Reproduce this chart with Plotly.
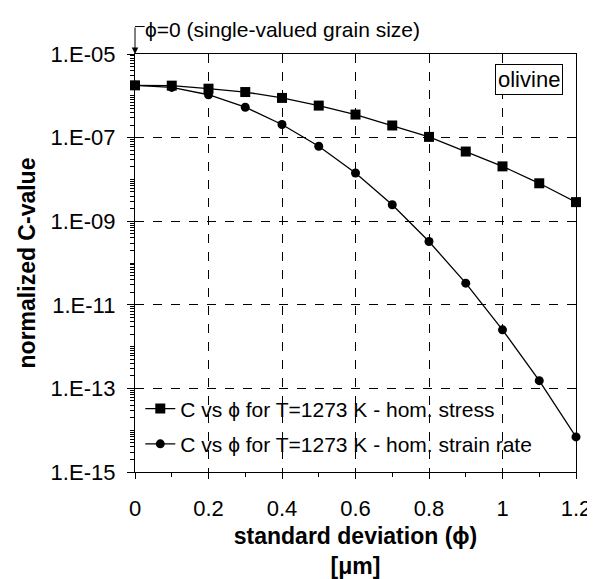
import plotly.graph_objects as go

# Data
sigma = [0.0, 0.1, 0.2, 0.3, 0.4, 0.5, 0.6, 0.7, 0.8, 0.9, 1.0, 1.1, 1.2]
c_hom_stress = [1.78e-6, 1.75e-6, 1.48e-6, 1.23e-6, 8.9e-7, 5.83e-7, 3.56e-7,
                1.95e-7, 1.04e-7, 4.64e-8, 2.05e-8, 8.07e-9, 2.86e-9]
c_hom_strain = [1.78e-6, 1.59e-6, 1.06e-6, 5.33e-7, 2.06e-7, 6.2e-8, 1.42e-8,
                2.47e-9, 3.27e-10, 3.29e-11, 2.52e-12, 1.53e-13, 6.9e-15]
y_tick_vals = [1e-15, 1e-13, 1e-11, 1e-9, 1e-7, 1e-5]
y_tick_text = ["1.E-15", "1.E-13", "1.E-11", "1.E-09", "1.E-07", "1.E-05"]
x_tick_vals = [0, 0.2, 0.4, 0.6, 0.8, 1.0, 1.2]
x_tick_text = ["0", "0.2", "0.4", "0.6", "0.8", "1", "1.2"]

FONT = "Liberation Sans, Arial, sans-serif"
FS = 22

minor_y = [k * 10.0 ** n for n in range(-15, -5) for k in range(1, 10) if not (k == 1 and n % 2 != 0)]

fig = go.Figure()
fig.add_trace(go.Scatter(
    x=sigma, y=c_hom_stress, mode="lines+markers",
    name="C vs \u03d5 for T=1273 K - hom. stress",
    line=dict(color="black", width=1.3),
    marker=dict(symbol="square", size=10, color="black"),
    cliponaxis=False, legendgroup="a"))
fig.add_trace(go.Scatter(
    x=sigma, y=c_hom_strain, mode="lines+markers",
    name="C vs \u03d5 for T=1273 K - hom. strain rate",
    line=dict(color="black", width=1.3),
    marker=dict(symbol="circle", size=9, color="black"),
    cliponaxis=False, legendgroup="b"))

fig.update_layout(
    width=595, height=579,
    margin=dict(l=127, r=15.5, t=45.7, b=112),
    paper_bgcolor="white", plot_bgcolor="white",
    font=dict(family=FONT, size=FS, color="black"),
    showlegend=True,
    legend=dict(x=0.012, y=0.2, xanchor="left", yanchor="top",
                bgcolor="rgba(0,0,0,0)", font=dict(size=21),
                traceorder="grouped", tracegroupgap=5,
                itemwidth=30),
    xaxis=dict(
        range=[0, 1.2], tickvals=x_tick_vals, ticktext=x_tick_text,
        ticks="outside", ticklen=6, tickwidth=1, tickcolor="black",
        ticklabelstandoff=10,
        minor=dict(ticks="outside", ticklen=4, dtick=0.1, tick0=0, tickcolor="black", showgrid=False),
        showline=True, linecolor="black", linewidth=1.3, mirror=True,
        showgrid=True, gridcolor="black", griddash="dash", gridwidth=1,
        zeroline=False,
        title=dict(text="<b>standard deviation (\u03d5)<br>[\u03bcm]</b>", standoff=8,
                   font=dict(size=23)),
    ),
    yaxis=dict(
        type="log", range=[-15, -5], tickvals=y_tick_vals, ticktext=y_tick_text,
        ticks="outside", ticklen=7, tickwidth=1, tickcolor="black",
        ticklabelstandoff=7,
        minor=dict(ticks="outside", ticklen=4, tickmode="array", tickvals=minor_y,
                   tickcolor="black", showgrid=False),
        showline=True, linecolor="black", linewidth=1.3, mirror=True,
        showgrid=True, gridcolor="black", griddash="dash", gridwidth=1,
        zeroline=False,
        title=dict(text="<b>normalized C-value</b>", standoff=8, font=dict(size=23)),
    ),
)

# olivine label box
fig.add_annotation(x=0.894, y=0.94, xref="paper", yref="paper", text="olivine",
                   xanchor="center", yanchor="middle",
                   showarrow=False, bordercolor="black", borderwidth=1, borderpad=2,
                   bgcolor="white", font=dict(size=FS))

# top annotation with elbow arrow
fig.add_annotation(x=0.019, y=1.0586, xref="paper", yref="paper",
                   text="\u03d5=0 (single-valued grain size)", showarrow=False,
                   xanchor="left", yanchor="middle", font=dict(size=21))
fig.add_shape(type="line", xref="paper", yref="paper", x0=0, x1=0.022,
              y0=1.0657, y1=1.0657, line=dict(color="black", width=1))
fig.add_annotation(x=0, y=1.0, xref="paper", yref="paper", ax=0, ay=-28,
                   text="", showarrow=True, arrowhead=2, arrowsize=1.3,
                   arrowwidth=1, arrowcolor="black")

fig.write_html("out.html")
